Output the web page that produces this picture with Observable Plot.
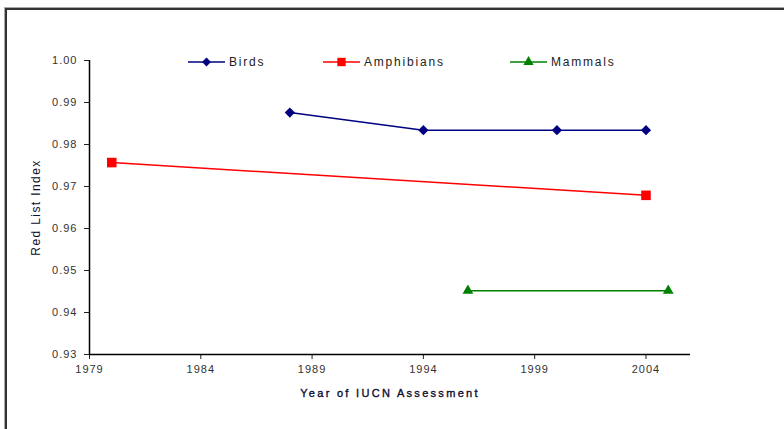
<!DOCTYPE html>
<html><head><meta charset="utf-8">
<script src="https://cdn.jsdelivr.net/npm/d3@7"></script>
<script src="https://cdn.jsdelivr.net/npm/@observablehq/plot@0.6"></script>
<style>
body{margin:0;background:#fff;font-family:"Liberation Sans",Arial,sans-serif;}
#wrap{position:relative;width:784px;height:429px;overflow:hidden;}
#frame{position:absolute;left:5px;top:8px;width:800px;height:440px;border-left:2px solid #333;border-top:2px solid #333;box-shadow:-1px -1px 0 #aaa;}
#legend{position:absolute;top:52px;left:0;width:784px;height:20px;}
</style></head>
<body><div id="wrap"><div id="frame"></div><div id="chart"></div><svg id="legend"></svg></div>
<script>
const birdsYears = [1988, 1994, 2000, 2004];
const birdsValues = [0.9876, 0.9834, 0.9834, 0.9834];
const amphYears = [1980, 2004];
const amphValues = [0.9757, 0.9679];
const mammYears = [1996, 2005];
const mammValues = [0.9452, 0.9452];
const xTicks = [1979, 1984, 1989, 1994, 1999, 2004];
const yTicks = [0.93, 0.94, 0.95, 0.96, 0.97, 0.98, 0.99, 1.00];
const seriesNames = ["Birds", "Amphibians", "Mammals"];
const seriesColors = ["#000080", "#ff0000", "#008000"];
const seriesSymbols = ["diamond2", "square", "triangle"];

const mk = (ys, vs) => ys.map((y, i) => ({year: y, value: vs[i]}));
const birds = mk(birdsYears, birdsValues);
const amph = mk(amphYears, amphValues);
const mamm = mk(mammYears, mammValues);

const chart = Plot.plot({
  width: 784, height: 429,
  marginLeft: 89, marginRight: 94, marginTop: 60, marginBottom: 75,
  style: {fontFamily: "Liberation Sans, Arial, sans-serif", fontSize: "11px", color: "#222", background: "transparent"},
  x: {domain: [1979, 2006], ticks: xTicks, tickFormat: d => String(d), label: "Year of IUCN Assessment", labelAnchor: "center", labelArrow: "none", labelOffset: 42, tickSize: 5, tickPadding: 6},
  y: {domain: [0.93, 1.00], ticks: yTicks, tickFormat: d3.format(".2f"), label: "Red List Index", labelAnchor: "center", labelArrow: "none", labelOffset: 58, tickSize: 5, tickPadding: 7},
  marks: [
    Plot.ruleX([1979], {stroke: "#000", strokeWidth: 1.5}),
    Plot.ruleY([0.93], {stroke: "#000", strokeWidth: 1.5}),
    Plot.line(birds, {x: "year", y: "value", stroke: seriesColors[0], strokeWidth: 1.5}),
    Plot.line(amph, {x: "year", y: "value", stroke: seriesColors[1], strokeWidth: 1.5}),
    Plot.line(mamm, {x: "year", y: "value", stroke: seriesColors[2], strokeWidth: 1.5}),
    Plot.dot(birds, {x: "year", y: "value", symbol: () => seriesSymbols[0], fill: seriesColors[0], r: 4.6}),
    Plot.dot(amph, {x: "year", y: "value", symbol: () => seriesSymbols[1], fill: seriesColors[1], r: 5.4}),
    Plot.dot(mamm, {x: "year", y: "value", symbol: () => seriesSymbols[2], fill: seriesColors[2], r: 4})
  ]
});
document.getElementById("chart").appendChild(chart);
chart.querySelectorAll("g[aria-label='x-axis label'] text").forEach(t => {t.style.letterSpacing = "2.3px"; t.style.fontSize = "11px"; t.style.fontWeight = "normal"; t.setAttribute("fill", "#0d0d30"); t.setAttribute("stroke", "#0d0d30"); t.setAttribute("stroke-width", "0.35");});
chart.querySelectorAll("g[aria-label='y-axis label'] text").forEach(t => {t.style.fontSize = "12px"; t.style.letterSpacing = "1.4px"; t.setAttribute("fill", "#0d0d30");});
chart.querySelectorAll("g[aria-label='y-axis tick label'] text, g[aria-label='x-axis tick label'] text").forEach(t => {t.setAttribute("fill", "#333"); t.style.letterSpacing = "1px";});

// legend
const lg = d3.select("#legend");
const legendX = [188, 323, 510];
const legendSym = [d3.symbolDiamond2, d3.symbolSquare, d3.symbolTriangle];
const legendSize = [50, 70, 45];
seriesNames.forEach((name, i) => {
  const g = lg.append("g").attr("transform", `translate(${legendX[i]},10)`);
  g.append("line").attr("x1", 0).attr("x2", 37).attr("stroke", seriesColors[i]).attr("stroke-width", 1.5);
  g.append("path").attr("transform", "translate(18.5,0)").attr("d", d3.symbol(legendSym[i], legendSize[i])()).attr("fill", seriesColors[i]);
  g.append("text").attr("x", 41).attr("y", 4).attr("font-size", "12px").attr("letter-spacing", "1.8px").attr("fill", "#222").attr("font-family", "Liberation Sans, Arial, sans-serif").text(name);
});
</script></body></html>
